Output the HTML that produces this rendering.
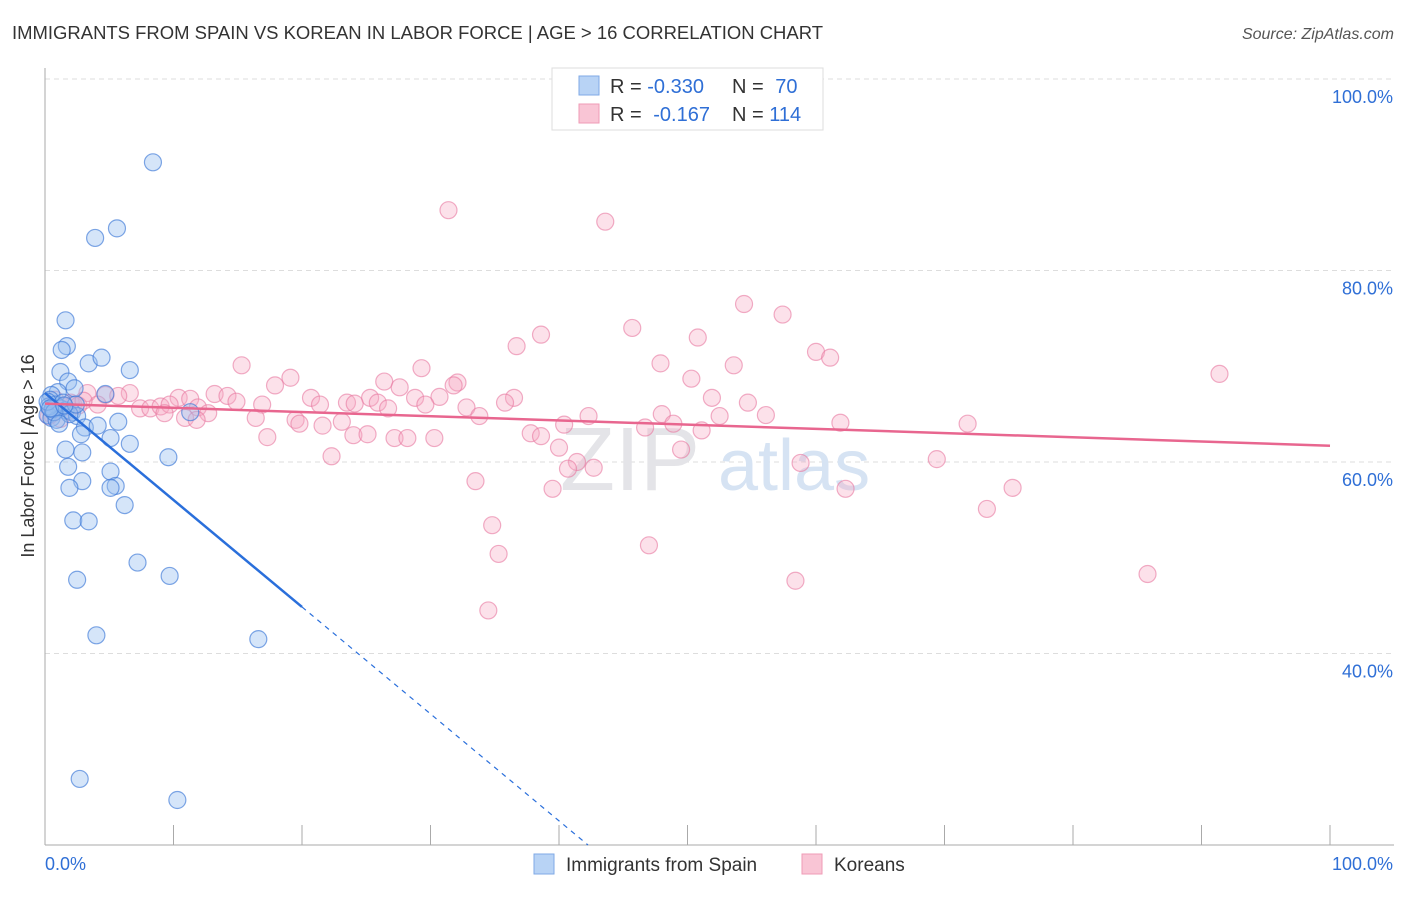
<!DOCTYPE html>
<html><head><meta charset="utf-8"><style>
body{margin:0;background:#fff;font-family:"Liberation Sans",sans-serif;}
svg text{font-family:"Liberation Sans",sans-serif;}
</style></head><body>
<svg id="chart" width="1406" height="892" xmlns="http://www.w3.org/2000/svg">
<text x="12" y="39" font-size="18" fill="#333" textLength="811" lengthAdjust="spacingAndGlyphs">IMMIGRANTS FROM SPAIN VS KOREAN IN LABOR FORCE | AGE &gt; 16 CORRELATION CHART</text>
<text x="1394" y="39" font-size="16" fill="#555" font-style="italic" text-anchor="end">Source: ZipAtlas.com</text>
<text transform="translate(34,456) rotate(-90)" font-size="18" fill="#333" text-anchor="middle">In Labor Force | Age &gt; 16</text>
<g id="grid"></g>
<text x="560" y="490" font-size="90" fill="#e4e4e8" font-family="Liberation Serif">ZIP</text>
<text x="718" y="490" font-size="72" fill="#d6e3f3">atlas</text>
<g id="pts"></g>
<g id="lines"></g>
<g>
<rect x="552" y="68" width="271" height="62" fill="#fff" stroke="#ddd"/>
<rect x="579" y="76" width="20" height="19" fill="#b8d3f5" stroke="#7fa9e6"/>
<rect x="579" y="104" width="20" height="19" fill="#f9c5d5" stroke="#ef9bb6"/>
<text x="610" y="93" font-size="20" fill="#333">R = <tspan fill="#2f6fd6">-0.330</tspan></text>
<text x="732" y="93" font-size="20" fill="#333">N = <tspan fill="#2f6fd6" dx="6">70</tspan></text>
<text x="610" y="121" font-size="20" fill="#333">R = <tspan fill="#2f6fd6" dx="6">-0.167</tspan></text>
<text x="732" y="121" font-size="20" fill="#333">N = <tspan fill="#2f6fd6">114</tspan></text>
</g>
<g>
<rect x="534" y="854" width="20" height="20" fill="#b8d3f5" stroke="#7fa9e6"/>
<text x="566" y="871" font-size="19" fill="#333">Immigrants from Spain</text>
<rect x="802" y="854" width="20" height="20" fill="#f9c5d5" stroke="#ef9bb6"/>
<text x="834" y="871" font-size="19" fill="#333">Koreans</text>
</g>
</svg>
<script>
const yTicks=[100,80,60,40];
const xTickLabels=["0.0%","100.0%"];
const blueX=[8.4,5.6,3.9,1.6,1.7,1.3,3.4,4.4,6.6,1.2,1.8,2.3,1.0,0.5,0.4,0.8,1.2,1.6,2.1,0.2,0.5,0.9,2.5,11.3,4.7,5.7,3.1,4.1,2.8,5.1,2.9,6.6,1.6,9.6,1.8,5.1,2.9,1.9,5.5,5.1,6.2,2.2,3.4,7.2,2.5,9.7,4.0,16.6,2.7,10.3,0.3,0.6,1.4,1.9,0.2,0.7,1.1,2.4,0.4,1.5];
const blueY=[91.3,84.4,83.4,74.8,72.1,71.7,70.3,70.9,69.6,69.4,68.4,67.7,67.3,67.0,66.5,66.0,65.6,65.4,65.2,64.9,64.6,64.4,64.8,65.2,67.1,64.2,63.6,63.8,62.9,62.5,61.0,61.9,61.3,60.5,59.5,59.0,58.0,57.3,57.5,57.3,55.5,53.9,53.8,49.5,47.7,48.1,41.9,41.5,26.9,24.7,65.8,65.5,66.2,65.0,66.3,65.2,64.0,66.0,65.6,65.9];
const pinkX=[31.4,43.6,54.4,57.4,45.7,38.6,50.8,36.7,60.0,61.1,15.3,47.9,53.6,29.3,91.4,19.1,26.4,32.1,50.3,17.9,27.6,31.8,3.3,6.6,13.2,14.2,4.7,5.7,10.4,11.3,20.7,25.3,28.8,30.7,36.5,51.9,14.9,16.9,23.5,24.1,25.9,35.8,54.7,4.1,2.2,7.4,8.2,9.0,9.7,11.9,21.4,26.7,29.6,32.8,12.7,9.3,10.9,16.4,19.5,23.1,33.8,42.3,48.0,52.5,56.1,19.8,21.6,11.8,40.4,46.7,48.9,51.1,61.9,71.8,17.3,24.0,25.1,27.2,28.2,30.3,37.8,38.6,40.0,49.5,22.3,41.4,40.7,42.7,58.8,69.4,33.5,39.5,62.3,75.3,73.3,34.8,35.3,47.0,85.8,58.4,34.5,0.8,1.5,2.0,0.5,1.2,2.6,3.0,1.8,0.3];
const pinkY=[86.3,85.1,76.5,75.4,74.0,73.3,73.0,72.1,71.5,70.9,70.1,70.3,70.1,69.8,69.2,68.8,68.4,68.3,68.7,68.0,67.8,68.0,67.2,67.2,67.1,66.9,67.0,66.9,66.7,66.6,66.7,66.7,66.7,66.8,66.7,66.7,66.3,66.0,66.2,66.1,66.2,66.2,66.2,66.0,66.0,65.6,65.6,65.8,66.0,65.7,66.0,65.6,66.0,65.7,65.1,65.1,64.6,64.6,64.4,64.2,64.8,64.8,65.0,64.8,64.9,64.0,63.8,64.4,63.9,63.6,64.0,63.3,64.1,64.0,62.6,62.8,62.9,62.5,62.5,62.5,63.0,62.7,61.5,61.3,60.6,60.0,59.3,59.4,59.9,60.3,58.0,57.2,57.2,57.3,55.1,53.4,50.4,51.3,48.3,47.6,44.5,66.5,65.8,66.2,65.0,64.5,65.9,66.4,65.3,64.8];
const blueTrend=[67.2,-1.117];
const pinkTrend=[66.1,-0.044];
const X=v=>45+v*12.85, Y=v=>79+(100-v)*9.575;
const NS="http://www.w3.org/2000/svg";
function mk(p,t,a){const e=document.createElementNS(NS,t);for(const k in a)e.setAttribute(k,a[k]);p.appendChild(e);return e;}
const g=document.getElementById('grid');
yTicks.forEach(t=>{
 const l=mk(g,'line',{x1:45,x2:1394,y1:Y(t),y2:Y(t),stroke:'#ddd','stroke-dasharray':'5,4'});
 
 
 const tx=mk(g,'text',{x:1393,y:Y(t)+24,'font-size':18,fill:'#2f6fd6','text-anchor':'end'});tx.textContent=t.toFixed(1)+'%';
 
 
});
mk(g,'line',{x1:45,x2:45,y1:68,y2:845,stroke:'#aaa'});
mk(g,'line',{x1:45,x2:1394,y1:845,y2:845,stroke:'#aaa'});
for(let i=0;i<=10;i++){const t=mk(g,'line',{x1:X(i*10),x2:X(i*10),y1:825,y2:845,stroke:'#aaa'});
 
 }
const xl0=mk(g,'text',{x:45,y:870,'font-size':18,fill:'#2f6fd6'});xl0.textContent=xTickLabels[0];


const xl1=mk(g,'text',{x:1393,y:870,'font-size':18,fill:'#2f6fd6','text-anchor':'end'});xl1.textContent=xTickLabels[1];


const P=document.getElementById('pts');
pinkX.forEach((v,i)=>{const c=mk(P,'circle',{cx:X(v),cy:Y(pinkY[i]),r:8.5,fill:'rgba(246,170,195,0.35)',stroke:'rgba(232,120,160,0.6)','stroke-width':1.2});
 
 });
blueX.forEach((v,i)=>{const c=mk(P,'circle',{cx:X(v),cy:Y(blueY[i]),r:8.5,fill:'rgba(150,190,240,0.4)',stroke:'rgba(60,120,215,0.65)','stroke-width':1.2});
 
 });
const L=document.getElementById('lines');
const bf=x=>blueTrend[0]+blueTrend[1]*x, pf=x=>pinkTrend[0]+pinkTrend[1]*x;
const xEnd=(20-blueTrend[0])/blueTrend[1];
const b1=mk(L,'line',{x1:X(0),y1:Y(bf(0)),x2:X(20),y2:Y(bf(20)),stroke:'#2a6fdb','stroke-width':2.5});


const b2=mk(L,'line',{x1:X(20),y1:Y(bf(20)),x2:X(xEnd),y2:Y(20),stroke:'#2a6fdb','stroke-width':1.2,'stroke-dasharray':'5,5'});


const p1=mk(L,'line',{x1:X(0),y1:Y(pf(0)),x2:X(100),y2:Y(pf(100)),stroke:'#e8668f','stroke-width':2.5});


</script>
</body></html>
